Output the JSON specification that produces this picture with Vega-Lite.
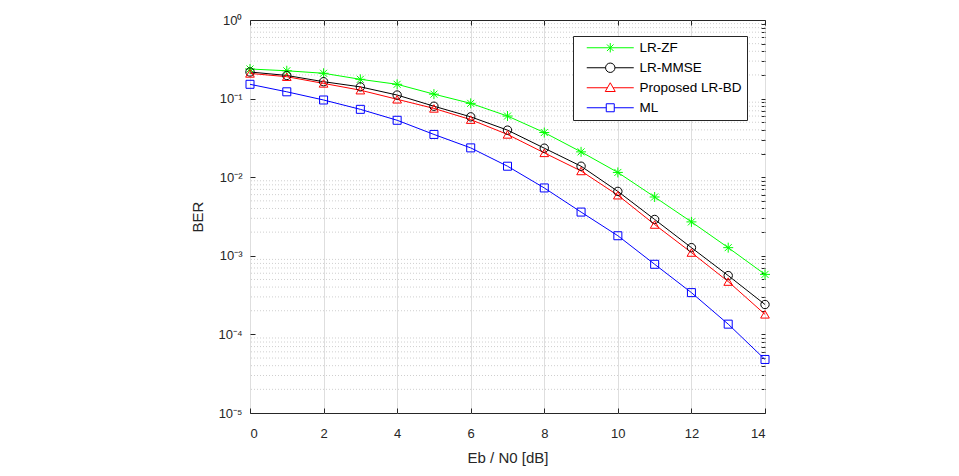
{
  "$schema": "https://vega.github.io/schema/vega-lite/v6.json",
  "width": 515,
  "height": 393,
  "autosize": "none",
  "padding": {"left": 250, "top": 20, "right": 194, "bottom": 63},
  "background": "white",
  "config": {
    "font": "Liberation Sans",
    "view": {"stroke": "#262626", "strokeWidth": 1},
    "axis": {
      "domain": false,
      "grid": true,
      "gridColor": "#dedede",
      "gridWidth": 1,
      "tickColor": "#262626",
      "tickSize": -5,
      "labelColor": "#262626",
      "labelFontSize": 13,
      "titleColor": "#262626",
      "titleFontSize": 15,
      "titleFontWeight": "normal"
    }
  },
  "resolve": {"axis": {"x": "independent", "y": "independent"}},
  "datasets": {
    "minor": [
      {"v": 2e-5}, {"v": 3e-5}, {"v": 4e-5}, {"v": 5e-5}, {"v": 6e-5}, {"v": 7e-5}, {"v": 8e-5}, {"v": 9e-5},
      {"v": 2e-4}, {"v": 3e-4}, {"v": 4e-4}, {"v": 5e-4}, {"v": 6e-4}, {"v": 7e-4}, {"v": 8e-4}, {"v": 9e-4},
      {"v": 2e-3}, {"v": 3e-3}, {"v": 4e-3}, {"v": 5e-3}, {"v": 6e-3}, {"v": 7e-3}, {"v": 8e-3}, {"v": 9e-3},
      {"v": 2e-2}, {"v": 3e-2}, {"v": 4e-2}, {"v": 5e-2}, {"v": 6e-2}, {"v": 7e-2}, {"v": 8e-2}, {"v": 9e-2},
      {"v": 0.2}, {"v": 0.3}, {"v": 0.4}, {"v": 0.5}, {"v": 0.6}, {"v": 0.7}, {"v": 0.8}, {"v": 0.9}
    ],
    "ber": [
      {"snr": 0, "ber": 0.238, "s": "LR-ZF"},
      {"snr": 1, "ber": 0.226, "s": "LR-ZF"},
      {"snr": 2, "ber": 0.21, "s": "LR-ZF"},
      {"snr": 3, "ber": 0.176, "s": "LR-ZF"},
      {"snr": 4, "ber": 0.152, "s": "LR-ZF"},
      {"snr": 5, "ber": 0.114, "s": "LR-ZF"},
      {"snr": 6, "ber": 0.087, "s": "LR-ZF"},
      {"snr": 7, "ber": 0.06, "s": "LR-ZF"},
      {"snr": 8, "ber": 0.037, "s": "LR-ZF"},
      {"snr": 9, "ber": 0.021, "s": "LR-ZF"},
      {"snr": 10, "ber": 0.0115, "s": "LR-ZF"},
      {"snr": 11, "ber": 0.0056, "s": "LR-ZF"},
      {"snr": 12, "ber": 0.0027, "s": "LR-ZF"},
      {"snr": 13, "ber": 0.00127, "s": "LR-ZF"},
      {"snr": 14, "ber": 0.00058, "s": "LR-ZF"},
      {"snr": 0, "ber": 0.218, "s": "LR-MMSE"},
      {"snr": 1, "ber": 0.197, "s": "LR-MMSE"},
      {"snr": 2, "ber": 0.164, "s": "LR-MMSE"},
      {"snr": 3, "ber": 0.141, "s": "LR-MMSE"},
      {"snr": 4, "ber": 0.111, "s": "LR-MMSE"},
      {"snr": 5, "ber": 0.08, "s": "LR-MMSE"},
      {"snr": 6, "ber": 0.0586, "s": "LR-MMSE"},
      {"snr": 7, "ber": 0.0397, "s": "LR-MMSE"},
      {"snr": 8, "ber": 0.0234, "s": "LR-MMSE"},
      {"snr": 9, "ber": 0.0138, "s": "LR-MMSE"},
      {"snr": 10, "ber": 0.0066, "s": "LR-MMSE"},
      {"snr": 11, "ber": 0.0029, "s": "LR-MMSE"},
      {"snr": 12, "ber": 0.00127, "s": "LR-MMSE"},
      {"snr": 13, "ber": 0.00056, "s": "LR-MMSE"},
      {"snr": 14, "ber": 0.00024, "s": "LR-MMSE"},
      {"snr": 0, "ber": 0.209, "s": "Proposed LR-BD"},
      {"snr": 1, "ber": 0.19, "s": "Proposed LR-BD"},
      {"snr": 2, "ber": 0.156, "s": "Proposed LR-BD"},
      {"snr": 3, "ber": 0.128, "s": "Proposed LR-BD"},
      {"snr": 4, "ber": 0.098, "s": "Proposed LR-BD"},
      {"snr": 5, "ber": 0.075, "s": "Proposed LR-BD"},
      {"snr": 6, "ber": 0.054, "s": "Proposed LR-BD"},
      {"snr": 7, "ber": 0.035, "s": "Proposed LR-BD"},
      {"snr": 8, "ber": 0.0204, "s": "Proposed LR-BD"},
      {"snr": 9, "ber": 0.012, "s": "Proposed LR-BD"},
      {"snr": 10, "ber": 0.0059, "s": "Proposed LR-BD"},
      {"snr": 11, "ber": 0.0025, "s": "Proposed LR-BD"},
      {"snr": 12, "ber": 0.0011, "s": "Proposed LR-BD"},
      {"snr": 13, "ber": 0.00047, "s": "Proposed LR-BD"},
      {"snr": 14, "ber": 0.00018, "s": "Proposed LR-BD"},
      {"snr": 0, "ber": 0.152, "s": "ML"},
      {"snr": 1, "ber": 0.122, "s": "ML"},
      {"snr": 2, "ber": 0.096, "s": "ML"},
      {"snr": 3, "ber": 0.073, "s": "ML"},
      {"snr": 4, "ber": 0.053, "s": "ML"},
      {"snr": 5, "ber": 0.035, "s": "ML"},
      {"snr": 6, "ber": 0.0236, "s": "ML"},
      {"snr": 7, "ber": 0.0138, "s": "ML"},
      {"snr": 8, "ber": 0.0073, "s": "ML"},
      {"snr": 9, "ber": 0.0036, "s": "ML"},
      {"snr": 10, "ber": 0.0018, "s": "ML"},
      {"snr": 11, "ber": 0.00078, "s": "ML"},
      {"snr": 12, "ber": 0.00034, "s": "ML"},
      {"snr": 13, "ber": 0.000135, "s": "ML"},
      {"snr": 14, "ber": 0.000048, "s": "ML"}
    ]
  },
  "layer": [
    {
      "data": {"name": "minor"},
      "mark": {"type": "rule", "stroke": "#cfcfcf", "strokeWidth": 1, "strokeDash": [1, 2]},
      "encoding": {
        "y": {
          "field": "v", "type": "quantitative",
          "scale": {"type": "log", "domain": [0.00001, 1], "nice": false},
          "axis": {
            "orient": "right", "grid": false, "labels": false, "title": null, "tickSize": -4,
            "values": [0.00001, 0.00002, 0.00003, 0.00004, 0.00005, 0.00006, 0.00007, 0.00008, 0.00009,
                       0.0001, 0.0002, 0.0003, 0.0004, 0.0005, 0.0006, 0.0007, 0.0008, 0.0009,
                       0.001, 0.002, 0.003, 0.004, 0.005, 0.006, 0.007, 0.008, 0.009,
                       0.01, 0.02, 0.03, 0.04, 0.05, 0.06, 0.07, 0.08, 0.09,
                       0.1, 0.2, 0.3, 0.4, 0.5, 0.6, 0.7, 0.8, 0.9, 1]
          }
        }
      }
    },
    {
      "data": {"name": "ber"},
      "mark": {"type": "line", "strokeWidth": 1},
      "encoding": {
        "x": {
          "field": "snr", "type": "quantitative",
          "scale": {"domain": [0, 14], "nice": false},
          "axis": {"values": [0, 2, 4, 6, 8, 10, 12, 14], "title": "Eb / N0  [dB]", "labelPadding": 19, "titlePadding": 10}
        },
        "y": {
          "field": "ber", "type": "quantitative",
          "scale": {"type": "log", "domain": [0.00001, 1], "nice": false},
          "axis": {
            "values": [0.00001, 0.0001, 0.001, 0.01, 0.1, 1],
            "labelExpr": "['10⁻⁵','10⁻⁴','10⁻³','10⁻²','10⁻¹','10⁰'][round(log(datum.value)/LN10)+5]",
            "title": "BER",
            "labelPadding": 13,
            "titlePadding": 12
          }
        },
        "color": {
          "field": "s", "type": "nominal",
          "scale": {"domain": ["LR-ZF", "LR-MMSE", "Proposed LR-BD", "ML"], "range": ["#00ff00", "#000000", "#ff0000", "#0000ff"]},
          "legend": {
            "orient": "none",
            "legendX": 323,
            "legendY": 16,
            "title": null,
            "strokeColor": "#262626",
            "fillColor": "white",
            "padding": 5,
            "rowPadding": 5,
            "labelFontSize": 13.5,
            "labelColor": "#000000",
            "labelOffset": 48,
            "labelExpr": "datum.label + '\u00a0\u00a0'",
            "symbolSize": 100,
            "symbolStrokeWidth": 1,
            "symbolOpacity": 1,
            "symbolFillColor": "transparent"
          }
        }
      }
    },
    {
      "data": {"name": "ber"},
      "mark": {"type": "point", "filled": false, "opacity": 0},
      "encoding": {
        "x": {
          "field": "snr", "type": "quantitative",
          "axis": {"orient": "top", "values": [0, 2, 4, 6, 8, 10, 12, 14], "labels": false, "title": null, "grid": false}
        },
        "y": {"field": "ber", "type": "quantitative", "axis": null},
        "color": {"field": "s", "type": "nominal"},
        "shape": {
          "field": "s", "type": "nominal",
          "scale": {"domain": ["LR-ZF", "LR-MMSE", "Proposed LR-BD", "ML"], "range": [
            "M0.4,0L9.8,0M5.1,-0.94L5.1,0.94M4.44,-0.66L5.76,0.66M4.44,0.66L5.76,-0.66",
            "M0.4,0L4.16,0M6.04,0L9.8,0M6.04,0A0.94,0.94 0 1 1 4.16,0A0.94,0.94 0 1 1 6.04,0",
            "M0.4,0L4.53,0M5.67,0L9.8,0M5.1,-1L6.1,0.75L4.1,0.75Z",
            "M0.4,0L4.3,0M5.9,0L9.8,0M4.3,-0.8L5.9,-0.8L5.9,0.8L4.3,0.8Z"
          ]}
        }
      }
    },
    {
      "data": {"name": "ber"},
      "transform": [{"filter": "datum.s === 'LR-ZF'"}],
      "mark": {"type": "point", "filled": false, "strokeWidth": 1, "opacity": 1, "size": 100, "shape": "M-1,0L1,0M0,-1L0,1M-0.7,-0.7L0.7,0.7M-0.7,0.7L0.7,-0.7"},
      "encoding": {
        "x": {"field": "snr", "type": "quantitative", "axis": null},
        "y": {"field": "ber", "type": "quantitative", "axis": null},
        "color": {"field": "s", "type": "nominal"}
      }
    },
    {
      "data": {"name": "ber"},
      "transform": [{"filter": "datum.s === 'LR-MMSE'"}],
      "mark": {"type": "point", "filled": false, "strokeWidth": 1, "opacity": 1, "size": 70, "shape": "circle"},
      "encoding": {
        "x": {"field": "snr", "type": "quantitative", "axis": null},
        "y": {"field": "ber", "type": "quantitative", "axis": null},
        "color": {"field": "s", "type": "nominal"}
      }
    },
    {
      "data": {"name": "ber"},
      "transform": [{"filter": "datum.s === 'Proposed LR-BD'"}],
      "mark": {"type": "point", "filled": false, "strokeWidth": 1, "opacity": 1, "size": 75, "shape": "triangle-up"},
      "encoding": {
        "x": {"field": "snr", "type": "quantitative", "axis": null},
        "y": {"field": "ber", "type": "quantitative", "axis": null},
        "color": {"field": "s", "type": "nominal"}
      }
    },
    {
      "data": {"name": "ber"},
      "transform": [{"filter": "datum.s === 'ML'"}],
      "mark": {"type": "point", "filled": false, "strokeWidth": 1, "opacity": 1, "size": 64, "shape": "square"},
      "encoding": {
        "x": {"field": "snr", "type": "quantitative", "axis": null},
        "y": {"field": "ber", "type": "quantitative", "axis": null},
        "color": {"field": "s", "type": "nominal"}
      }
    }
  ]
}
